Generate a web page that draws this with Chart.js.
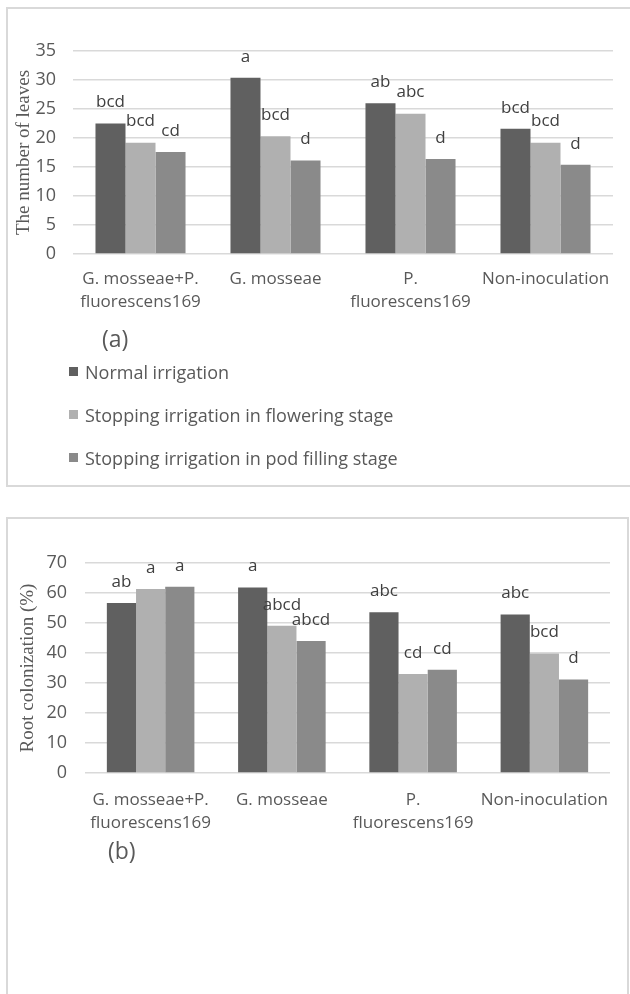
<!DOCTYPE html>
<html>
<head>
<meta charset="utf-8">
<script src="https://cdn.jsdelivr.net/npm/chart.js@4.4.0/dist/chart.umd.min.js"></script>
<style>
  body { margin: 0; background: #fff; width: 630px; height: 994px; overflow: hidden; position: relative; font-family: "Open Sans", sans-serif; }
  .box { position: absolute; border: 2px solid #d9d9d9; box-sizing: border-box; }
  canvas { position: absolute; left: 0; }
  .tag { position: absolute; color: #595959; font-size: 23px; line-height: 30px; }
  .legend { position: absolute; left: 69px; top: 350px; color: #595959; font-size: 18px; }
  .legend div { height: 43px; display: flex; align-items: center; }
  .legend span.sw { width: 9px; height: 9px; display: inline-block; margin-right: 7px; }
</style>
</head>
<body>
<div class="box" style="left:6px; top:7px; width:640px; height:480px;"></div>
<div class="box" style="left:6px; top:517px; width:623px; height:500px;"></div>
<canvas id="leaves" width="630" height="330" style="top:0px; width:630px; height:330px;"></canvas>
<canvas id="roots" width="630" height="370" style="top:500px; width:630px; height:370px;"></canvas>
<div class="tag" style="left:102px; top:323px;">(a)</div>
<div class="tag" style="left:108px; top:835px;">(b)</div>
<div class="legend" id="legend"></div>
<script>
// categories (wrapped the same way as the picture)
const categorias = [
    ['G. mosseae+P.', 'fluorescens169'],
    'G. mosseae',
    ['P.', 'fluorescens169'],
    'Non-inoculation'
];
const series = ['Normal irrigation', 'Stopping irrigation in flowering stage', 'Stopping irrigation in pod filling stage'];
const cores = ['#606060', '#b0b0b0', '#8a8a8a'];

// (a) number of leaves
const folhasNormal = [22.5, 30.4, 26.0, 21.6];
const folhasFlor = [19.2, 20.3, 24.2, 19.2];
const folhasVagem = [17.6, 16.1, 16.4, 15.4];
const letrasFolhas = [
    ['bcd', 'a', 'ab', 'bcd'],
    ['bcd', 'bcd', 'abc', 'bcd'],
    ['cd', 'd', 'd', 'd']
];

// (b) root colonization (%)
const raizNormal = [56.7, 61.8, 53.6, 52.8];
const raizFlor = [61.3, 49.1, 33.0, 39.8];
const raizVagem = [62.1, 44.0, 34.4, 31.2];
const letrasRaiz = [
    ['ab', 'a', 'abc', 'abc'],
    ['a', 'abcd', 'cd', 'bcd'],
    ['a', 'abcd', 'cd', 'd']
];

const fonteSans = '"Open Sans", sans-serif';

// plugin que escreve as letras acima das barras
const letrasPlugin = {
    id: 'letras',
    afterDatasetsDraw(chart, args, opts) {
        const ctx = chart.ctx;
        ctx.save();
        ctx.fillStyle = '#404040';
        ctx.font = '17px ' + fonteSans;
        ctx.textAlign = 'center';
        ctx.textBaseline = 'middle';
        chart.data.datasets.forEach(function (ds, i) {
            chart.getDatasetMeta(i).data.forEach(function (bar, j) {
                ctx.fillText(opts.letras[i][j], bar.x, bar.y - 21);
            });
        });
        ctx.restore();
    }
};

function criaGrafico(id, altura, valores, letras, yMax, passo, titulo, eixo) {
    const ctx = document.getElementById(id).getContext('2d');
    return new Chart(ctx, {
        type: 'bar',
        data: {
            labels: categorias,
            datasets: valores.map(function (v, i) {
                return {
                    label: series[i],
                    data: v,
                    backgroundColor: cores[i],
                    categoryPercentage: 0.667,
                    barPercentage: 1.0
                };
            })
        },
        options: {
            responsive: false,
            animation: false,
            devicePixelRatio: 1,
            layout: { padding: { top: eixo.top, right: 630 - eixo.right, bottom: 0, left: 0 } },
            plugins: {
                legend: { display: false },
                tooltip: { enabled: false },
                letras: { letras: letras }
            },
            scales: {
                x: {
                    grid: { display: false, drawTicks: false },
                    border: { display: false },
                    ticks: {
                        color: '#595959',
                        font: { family: fonteSans, size: 17, lineHeight: 1.35 },
                        padding: eixo.labelPad,
                        maxRotation: 0,
                        autoSkip: false
                    },
                    afterFit: function (scale) { scale.height = altura - eixo.bottom; }
                },
                y: {
                    min: 0,
                    max: yMax,
                    grid: { color: '#d9d9d9', lineWidth: 1.5, drawTicks: false },
                    border: { display: false },
                    ticks: {
                        stepSize: passo,
                        color: '#595959',
                        font: { family: fonteSans, size: 18 },
                        padding: eixo.tickPad
                    },
                    title: {
                        display: true,
                        text: titulo,
                        color: '#595959',
                        font: { family: '"Liberation Serif", serif', size: 19 },
                        padding: { top: eixo.titlePad, bottom: 0 }
                    },
                    afterFit: function (scale) { scale.width = eixo.left; }
                }
            }
        },
        plugins: [letrasPlugin]
    });
}

criaGrafico('leaves', 330, [folhasNormal, folhasFlor, folhasVagem], letrasFolhas, 35, 5,
    'The number of leaves', { left: 73, right: 613, top: 51, bottom: 254, tickPad: 17, titlePad: 13, labelPad: 14 });

criaGrafico('roots', 370, [raizNormal, raizFlor, raizVagem], letrasRaiz, 70, 10,
    'Root colonization (%)', { left: 85, right: 610, top: 63, bottom: 273, tickPad: 18, titlePad: 17, labelPad: 16 });

// legenda em HTML
const legenda = document.getElementById('legend');
series.forEach(function (nome, i) {
    const item = document.createElement('div');
    item.innerHTML = '<span class="sw" style="background:' + cores[i] + '"></span>' + nome;
    legenda.appendChild(item);
});
</script>
</body>
</html>
